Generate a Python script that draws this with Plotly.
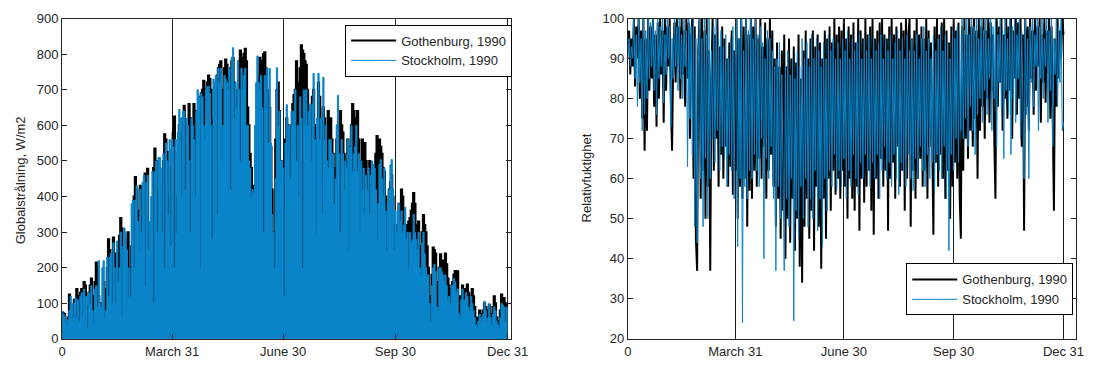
import numpy as np
import plotly.graph_objects as go

# ---------------- data ----------------
tick_days = [0, 90, 181, 273, 365]
tick_text = ["0", "March 31", "June 30", "Sep 30", "Dec 31"]

# daily peak global radiation (W/m2), day 0 .. 365
rad_gothenburg = [
    75, 72, 70, 30, 20, 60, 125, 90, 60, 95,
    110, 40, 140, 120, 70, 130, 140, 100, 160, 150,
    90, 60, 130, 150, 170, 120, 60, 160, 215, 200,
    120, 90, 100, 60, 160, 140, 60, 200, 280, 250,
    150, 200, 285, 240, 70, 180, 240, 290, 340, 310,
    200, 250, 230, 280, 300, 200, 80, 260, 350, 400,
    455, 420, 300, 360, 430, 410, 250, 380, 465, 440,
    478, 300, 200, 250, 280, 480, 535, 500, 380, 420,
    440, 350, 250, 500, 575, 560, 525, 400, 330, 480,
    530, 580, 625, 400, 220, 520, 600, 580, 500, 620,
    655, 600, 450, 560, 660, 620, 400, 560, 660, 640,
    300, 520, 600, 680, 690, 700, 725, 700, 600, 720,
    740, 730, 700, 620, 500, 680, 720, 740, 760, 770,
    780, 700, 550, 760, 785, 770, 700, 740, 760, 780,
    790, 720, 600, 680, 700, 780, 810, 790, 760, 800,
    815, 780, 650, 600, 520, 480, 430, 410, 425, 500,
    600, 740, 790, 780, 750, 800, 805, 760, 700, 680,
    650, 540, 420, 300, 240, 560, 700, 720, 640, 500,
    480, 470, 500, 560, 620, 600, 550, 480, 600, 660,
    685, 700, 780, 720, 560, 760, 825, 810, 800, 780,
    770, 700, 650, 560, 620, 680, 700, 600, 420, 560,
    720, 680, 600, 560, 650, 620, 560, 580, 640, 600,
    620, 560, 520, 460, 480, 560, 600, 620, 640, 600,
    580, 520, 450, 500, 560, 520, 540, 600, 660, 640,
    620, 600, 640, 560, 500, 470, 560, 540, 550, 500,
    430, 460, 500, 420, 380, 430, 480, 520, 570, 560,
    560, 540, 520, 480, 470, 400, 300, 360, 420, 440,
    460, 400, 320, 280, 260, 320, 380, 360, 420, 400,
    360, 320, 300, 320, 330, 340, 360, 380, 410, 380,
    300, 320, 330, 260, 220, 300, 348, 320, 300, 260,
    200, 120, 60, 180, 257, 250, 240, 160, 100, 200,
    238, 220, 200, 220, 240, 210, 170, 150, 120, 140,
    160, 180, 191, 185, 190, 120, 80, 120, 150, 140,
    120, 140, 153, 130, 100, 120, 140, 120, 90, 60,
    30, 60, 80, 70, 60, 80, 100, 90, 60, 80,
    95, 70, 40, 90, 120, 100, 60, 50, 30, 80,
    125, 110, 115, 60, 100, 90,
]
rad_stockholm = [
    75, 70, 65, 50, 40, 55, 80, 120, 100, 60,
    100, 115, 60, 110, 50, 120, 130, 60, 140, 120,
    120, 30, 130, 100, 150, 80, 40, 140, 150, 90,
    220, 100, 90, 200, 220, 60, 80, 230, 120, 230,
    240, 100, 270, 200, 100, 275, 160, 200, 300, 60,
    260, 312, 300, 250, 120, 200, 120, 380, 390, 200,
    390, 430, 330, 250, 420, 300, 440, 460, 150, 440,
    460, 250, 330, 400, 470, 100, 470, 500, 300, 510,
    510, 480, 300, 520, 200, 550, 500, 350, 560, 260,
    560, 540, 200, 560, 300, 580, 645, 620, 400, 640,
    640, 420, 620, 600, 500, 300, 620, 600, 560, 400,
    640, 700, 680, 200, 690, 680, 600, 560, 700, 710,
    710, 690, 600, 280, 730, 720, 740, 350, 760, 720,
    760, 500, 600, 740, 730, 720, 700, 760, 420, 790,
    818, 620, 720, 650, 780, 700, 500, 760, 700, 740,
    760, 600, 600, 500, 480, 400, 420, 410, 600, 720,
    795, 720, 700, 740, 650, 300, 740, 650, 760, 550,
    760, 550, 350, 300, 200, 450, 762, 600, 640, 500,
    500, 480, 120, 550, 658, 520, 600, 450, 640, 600,
    640, 700, 500, 600, 400, 680, 620, 200, 700, 600,
    700, 600, 640, 660, 500, 660, 746, 560, 300, 620,
    746, 560, 620, 350, 735, 560, 600, 500, 480, 560,
    560, 480, 520, 380, 450, 600, 684, 520, 300, 560,
    520, 420, 500, 480, 560, 250, 540, 600, 470, 520,
    540, 600, 470, 520, 300, 500, 420, 480, 350, 460,
    420, 480, 350, 460, 500, 490, 480, 420, 280, 380,
    490, 504, 450, 400, 480, 360, 250, 380, 420, 490,
    504, 420, 250, 360, 300, 360, 380, 330, 360, 300,
    320, 370, 280, 300, 200, 300, 270, 280, 350, 300,
    280, 250, 300, 200, 180, 270, 300, 240, 200, 180,
    180, 100, 50, 150, 200, 210, 190, 90, 80, 200,
    200, 190, 180, 160, 180, 150, 110, 120, 100, 150,
    150, 170, 160, 130, 140, 70, 60, 110, 140, 110,
    110, 130, 120, 90, 80, 120, 100, 80, 60, 40,
    30, 50, 70, 60, 50, 70, 106, 80, 50, 60,
    100, 60, 40, 70, 90, 80, 50, 40, 30, 60,
    100, 95, 90, 50, 90, 80,
]

# relative humidity (%), alternating daily high/low, day 0 .. 365
rh_gothenburg = [
    92, 97, 86, 95, 88, 100, 83, 98, 90, 100, 80, 97, 75, 100, 67, 95, 72, 100, 82, 98,
    85, 100, 78, 96, 73, 99, 80, 100, 86, 97, 74, 100, 82, 98, 88, 100, 79, 67, 90, 99,
    84, 100, 88, 98, 80, 100, 86, 97, 78, 100, 85, 99, 70, 95, 100, 60, 98, 45, 37, 92,
    100, 55, 100, 62, 97, 50, 100, 58, 92, 37, 85, 100, 62, 96, 70, 100, 58, 93, 66, 98,
    60, 95, 68, 90, 58, 94, 63, 97, 56, 92, 62, 100, 50, 95, 58, 100, 55, 98, 60, 100,
    48, 96, 57, 100, 55, 98, 62, 100, 58, 95, 65, 100, 60, 93, 68, 99, 55, 95, 62, 100,
    66, 97, 58, 90, 48, 94, 55, 88, 45, 92, 52, 96, 40, 88, 50, 95, 44, 90, 55, 93,
    42, 89, 50, 96, 38, 85, 34, 92, 48, 97, 55, 90, 45, 95, 52, 97, 42, 93, 58, 96,
    48, 94, 37.5, 90, 55, 97, 45, 95, 60, 98, 52, 94, 62, 100, 56, 96, 60, 98, 55, 97,
    62, 100, 58, 95, 50, 98, 60, 96, 55, 99, 52, 94, 58, 100, 47, 97, 60, 95, 54, 100,
    58, 96, 62, 98, 52, 100, 46, 95, 60, 97, 55, 99, 65, 100, 58, 96, 62, 95, 47, 98,
    60, 100, 64, 96, 55, 98, 68, 95, 58, 99, 62, 97, 52, 100, 60, 96, 100, 48, 95, 62,
    97, 55, 100, 60, 96, 65, 98, 58, 95, 62, 100, 55, 97, 68, 94, 60, 46, 98, 64, 100,
    58, 96, 66, 99, 60, 100, 55, 97, 62, 94, 50, 98, 58, 100, 64, 97, 60, 99, 56, 45,
    98, 62, 100, 70, 96, 65, 100, 72, 98, 68, 100, 75, 97, 60, 100, 72, 98, 78, 100, 70,
    97, 80, 100, 74, 99, 82, 96, 70, 55, 100, 78, 98, 84, 100, 72, 96, 80, 100, 75, 98,
    82, 100, 70, 97, 85, 100, 76, 99, 80, 100, 68, 96, 47, 100, 78, 98, 72, 100, 85, 97,
    76, 100, 82, 98, 88, 100, 74, 96, 84, 100, 79, 97, 86, 100, 75, 98, 80, 52, 95, 78,
    100, 85, 97, 90, 100, 96,
]
rh_stockholm = [
    90, 95, 88, 93, 90, 100, 85, 96, 78, 100, 84, 95, 72, 100, 76, 97, 80, 100, 85, 99,
    88, 100, 82, 97, 76, 100, 85, 98, 88, 100, 79, 96, 86, 100, 90, 98, 73, 95, 85, 100,
    88, 98, 82, 100, 85, 96, 80, 100, 88, 97, 63, 100, 75, 98, 66, 100, 48, 95, 44, 88,
    100, 60, 95, 48, 100, 65, 96, 50, 100, 60, 92, 70, 98, 64, 100, 72, 95, 62, 97, 68,
    93, 65, 96, 58, 90, 66, 95, 62, 98, 55, 90, 100, 43, 95, 60, 100, 24, 92, 58, 100,
    55, 97, 62, 100, 60, 95, 66, 100, 62, 96, 58, 98, 70, 94, 40, 90, 65, 97, 60, 95,
    68, 92, 55, 88, 37, 90, 58, 94, 50, 86, 62, 37, 88, 55, 92, 48, 86, 60, 90, 24.5,
    85, 52, 92, 45, 88, 58, 95, 50, 90, 60, 94, 48, 88, 55, 96, 50, 90, 62, 95, 47,
    92, 55, 88, 43, 94, 60, 90, 52, 96, 62, 92, 58, 95, 66, 90, 57, 94, 62, 90, 58,
    95, 65, 92, 55, 97, 62, 90, 58, 95, 66, 92, 60, 94, 56, 96, 64, 90, 60, 95, 66,
    92, 62, 96, 58, 90, 64, 95, 60, 92, 66, 94, 55, 96, 62, 90, 68, 95, 60, 92, 64,
    96, 58, 90, 66, 94, 60, 97, 56, 92, 64, 95, 62, 90, 58, 96, 66, 92, 60, 95, 57,
    92, 65, 96, 60, 90, 68, 95, 62, 98, 58, 92, 66, 95, 60, 90, 64, 96, 57, 92, 66,
    95, 62, 98, 60, 92, 68, 96, 55, 94, 42, 90, 66, 97, 62, 95, 70, 98, 64, 96, 72,
    100, 70, 97, 75, 100, 68, 96, 78, 100, 72, 98, 66, 100, 76, 95, 80, 100, 74, 97, 82,
    100, 76, 95, 85, 100, 72, 98, 80, 100, 68, 96, 84, 100, 78, 97, 65, 100, 82, 95, 76,
    100, 66, 98, 80, 100, 74, 96, 85, 100, 70, 97, 82, 60, 100, 76, 95, 60, 98, 84, 100,
    78, 96, 88, 100, 72, 98, 85, 100, 80, 95, 88, 100, 74, 97, 82, 100, 68, 95, 86, 100,
    78, 98, 84, 100, 72, 74,
]

series_names = ["Gothenburg, 1990", "Stockholm, 1990"]
colors = ["#000000", "#0a84c8"]
widths = [2, 1]

# ---------------- figure ----------------
W, H = 1103, 369
fig = go.Figure()

for ys, c, w in zip((rad_gothenburg, rad_stockholm), colors, widths):
    fig.add_trace(go.Scatter(x=list(range(len(ys))), y=ys, mode="lines",
                             line=dict(color=c, width=w, shape="hvh"),
                             fill="tozeroy", fillcolor=c, showlegend=False,
                             xaxis="x", yaxis="y", hoverinfo="skip"))

for ys, c, w in zip((rh_gothenburg, rh_stockholm), colors, widths):
    fig.add_trace(go.Scatter(x=list(range(len(ys))), y=ys, mode="lines",
                             line=dict(color=c, width=w), showlegend=False,
                             xaxis="x2", yaxis="y2", hoverinfo="skip"))

# legend-only line entries
for name, c, w in zip(series_names, colors, widths):
    fig.add_trace(go.Scatter(x=[None], y=[None], mode="lines", name=name,
                             line=dict(color=c, width=w), xaxis="x", yaxis="y",
                             legend="legend"))
for name, c, w in zip(series_names, colors, widths):
    fig.add_trace(go.Scatter(x=[None], y=[None], mode="lines", name=name,
                             line=dict(color=c, width=w), xaxis="x2", yaxis="y2",
                             legend="legend2"))

txt = "#262626"
font = dict(family="Liberation Sans, Arial, sans-serif", size=13, color=txt)
ydom = [(H - 346) / H, (H - 12) / H]

common_x = dict(tickmode="array", tickvals=tick_days, ticktext=tick_text,
                ticks="inside", ticklen=5, tickcolor=txt, showline=True,
                linecolor=txt, linewidth=1, mirror="ticks", showgrid=True,
                gridcolor="#1a1a1a", gridwidth=1, zeroline=False,
                tickfont=font)
common_y = dict(ticks="inside", ticklen=5, tickcolor=txt, showline=True,
                linecolor=txt, linewidth=1, mirror="ticks", showgrid=False,
                zeroline=False, tickfont=font)

fig.update_layout(
    width=W, height=H,
    margin=dict(l=0, r=0, t=0, b=0),
    paper_bgcolor="white", plot_bgcolor="white",
    font=font,
    xaxis=dict(domain=[59.3 / W, 516.7 / W], range=[0, 367.6], anchor="y", **common_x),
    yaxis=dict(domain=ydom, range=[0, 900], dtick=100, anchor="x", **common_y),
    xaxis2=dict(domain=[636 / W, 1093.3 / W], range=[0, 375.9], anchor="y2", **common_x),
    yaxis2=dict(domain=ydom, range=[20, 100], dtick=10, anchor="x2", **common_y),
    legend=dict(x=518 / W, y=1 - 18.3 / H, xanchor="right", yanchor="top",
                bgcolor="white", bordercolor="#000", borderwidth=1,
                font=font, itemwidth=45, tracegroupgap=0),
    legend2=dict(x=1090 / W, y=1 - 267.3 / H, xanchor="right", yanchor="top",
                 bgcolor="white", bordercolor="#000", borderwidth=1,
                 font=font, itemwidth=45, tracegroupgap=0),
    annotations=[
        dict(text="Globalstrålning, W/m2", x=17 / W, y=1 - 181 / H, xref="paper",
             yref="paper", textangle=-90, showarrow=False, font=font,
             xanchor="center", yanchor="middle"),
        dict(text="Relativfuktighet", x=594 / W, y=1 - 178 / H, xref="paper",
             yref="paper", textangle=-90, showarrow=False, font=font,
             xanchor="center", yanchor="middle"),
    ],
)

fig.write_html("out.html")
